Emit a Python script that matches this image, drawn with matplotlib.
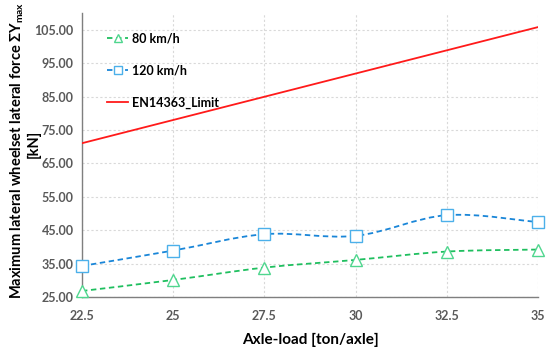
import matplotlib
matplotlib.use("Agg")
import matplotlib.pyplot as plt
import numpy as np
from matplotlib.path import Path
from matplotlib.patches import PathPatch
from matplotlib.lines import Line2D

plt.rcParams["font.family"] = ["Lato", "DejaVu Sans"]
plt.rcParams["mathtext.fontset"] = "custom"
plt.rcParams["mathtext.rm"] = "Lato:bold"
plt.rcParams["mathtext.bf"] = "Lato:bold"
plt.rcParams["mathtext.it"] = "Lato:bold"

axle_load = [22.5, 25, 27.5, 30, 32.5, 35]
y_80 = [26.8, 30.1, 33.8, 36.1, 38.6, 39.2]
y_120 = [34.3, 38.9, 43.8, 43.3, 49.5, 47.4]
y_limit = [71.03, 77.98, 84.93, 91.88, 98.83, 105.78]
y_ticks = [25, 35, 45, 55, 65, 75, 85, 95, 105]

C80, C80M = "#1fbf5f", "#4fd68e"
C120, C120M = "#1a86d8", "#4cb0ea"
GRAY = "#595959"


def smooth_path(xs, ys):
    # Excel-style smoothed line: Catmull-Rom segments drawn as cubic Beziers
    x, y = np.asarray(xs, float), np.asarray(ys, float)
    verts, codes = [(x[0], y[0])], [Path.MOVETO]
    n = len(x)
    for i in range(n - 1):
        p0 = (x[max(i - 1, 0)], y[max(i - 1, 0)])
        p1 = (x[i], y[i])
        p2 = (x[i + 1], y[i + 1])
        p3 = (x[min(i + 2, n - 1)], y[min(i + 2, n - 1)])
        c1 = (p1[0] + (p2[0] - p0[0]) / 6, p1[1] + (p2[1] - p0[1]) / 6)
        c2 = (p2[0] - (p3[0] - p1[0]) / 6, p2[1] - (p3[1] - p1[1]) / 6)
        verts += [c1, c2, p2]
        codes += [Path.CURVE4] * 3
    return Path(verts, codes)


fig = plt.figure(figsize=(5.5, 3.52), dpi=100)
ax = fig.add_axes([82 / 550, 1 - 297 / 352, 456 / 550, 284 / 352])

for ys, c, cm, mk in [(y_80, C80, C80M, "^"), (y_120, C120, C120M, "s")]:
    ax.add_patch(PathPatch(smooth_path(axle_load, ys), fill=False, ec=c,
                           lw=1.3, ls=(0, (3, 2)), zorder=3))
    ax.plot(axle_load, ys, ls="none", marker=mk, ms=8, mfc="white",
            mec=cm, mew=1.0, zorder=4, clip_on=False)
ax.plot(axle_load, y_limit, color="#ff1a1a", lw=1.3, zorder=3)

ax.set_xlim(22.5, 35)
ax.set_ylim(25, 110)
ax.set_xticks(axle_load)
ax.set_xticklabels(["22.5", "25", "27.5", "30", "32.5", "35"])
ax.set_yticks(y_ticks)
ax.set_yticklabels([f"{v:.2f}" for v in y_ticks])
ax.tick_params(length=0, labelsize=9, labelcolor=GRAY, pad=6)
ax.tick_params(axis="x", pad=9)
for lab in ax.get_xticklabels() + ax.get_yticklabels():
    lab.set_fontweight("bold")
ax.grid(True, color="#d9d9d9", ls=(0, (2, 2)), lw=0.8)
for s in ["top", "right"]:
    ax.spines[s].set_visible(False)
for s in ["left", "bottom"]:
    ax.spines[s].set_color("#7f7f7f")
    ax.spines[s].set_linewidth(1.0)

ax.set_xlabel("Axle-load [ton/axle]", fontsize=11, fontweight="bold", labelpad=8)
fig.text(17 / 550, 1 - 150 / 352,
         "Maximum lateral wheelset lateral force \u03a3Y$_{max}$",
         rotation=90, ha="center", va="center", fontsize=10.5, fontweight="bold")
fig.text(34 / 550, 1 - 144 / 352, "[kN]", rotation=90, ha="center",
         va="center", fontsize=10.5, fontweight="bold")

handles = [
    Line2D([], [], color=C80, ls=(0, (3, 2)), lw=1.3, marker="^", ms=6,
           mfc="white", mec=C80M),
    Line2D([], [], color=C120, ls=(0, (3, 2)), lw=1.3, marker="s", ms=6,
           mfc="white", mec=C120M),
    Line2D([], [], color="#ff1a1a", lw=1.3),
]
ax.legend(handles, ["80 km/h", "120 km/h", "EN14363_Limit"], loc="upper left",
          bbox_to_anchor=(0.03, 0.97), frameon=False, labelspacing=1.6,
          handlelength=1.7, handletextpad=0.3,
          prop={"weight": "bold", "size": 9})

fig.savefig("out.png", dpi=100, facecolor="white")
